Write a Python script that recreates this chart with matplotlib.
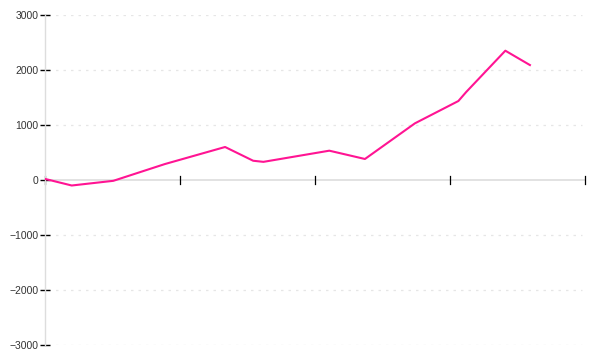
import matplotlib
matplotlib.use("Agg")
import matplotlib.pyplot as plt

# x positions (tick spacing = 5 units), series values
x_vals = [0, 0.99, 2.53, 4.44, 6.67, 7.71, 8.09, 10.53, 11.85, 13.70, 15.31, 15.60, 17.05, 17.96]
y_vals = [20, -100, -15, 290, 600, 350, 330, 533, 382, 1030, 1436, 1600, 2351, 2090]
x_ticks = [0, 5, 10, 15, 20]
y_ticks = [-3000, -2000, -1000, 0, 1000, 2000, 3000]
y_labels = ["\u22123000", "\u22122000", "\u22121000", "0", "1000", "2000", "3000"]

fig = plt.figure(figsize=(6, 3.6), dpi=100)
ax = fig.add_axes([45/600, 15/360, 540/600, 330/360])

ax.plot(x_vals, y_vals, color="#ff1493", lw=1.5, zorder=3)

ax.set_xlim(0, 20)
ax.set_ylim(-3000, 3000)

for s in ["top", "right", "bottom"]:
    ax.spines[s].set_visible(False)
ax.spines["left"].set_color("#dddddd")
ax.spines["left"].set_linewidth(1)

# zero line acting as x axis
ax.axhline(0, color="#dddddd", lw=1.2, zorder=1)
for yt in y_ticks:
    if yt != 0:
        ax.plot([0.1, 19.9], [yt, yt], color="#e6e6e6", lw=0.9, ls=(0, (2, 4)), zorder=0)

ax.set_yticks(y_ticks)
ax.set_yticklabels(y_labels, fontfamily="Liberation Sans", fontsize=7.5, color="#333333")
ax.tick_params(axis="y", direction="inout", length=7, width=1, color="black", pad=1)

ax.set_xticks([])
for xt in x_ticks:
    ax.plot([xt, xt], [-80, 80], color="black", lw=0.9, zorder=2, clip_on=False)

fig.savefig("out.png", dpi=100)
